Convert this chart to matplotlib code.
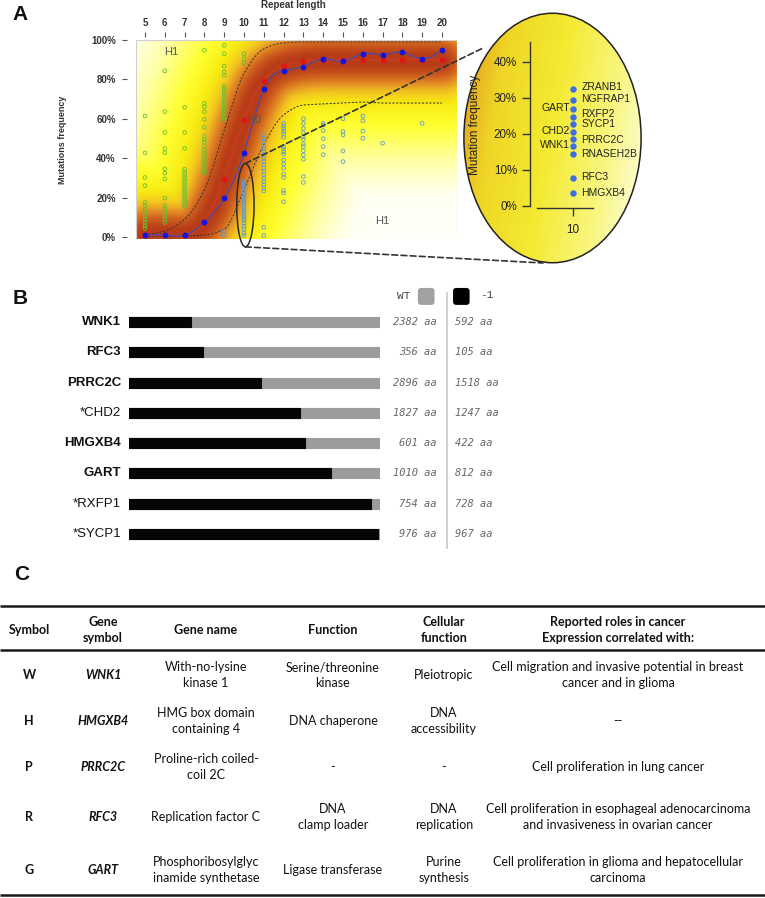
import numpy as np
import matplotlib
matplotlib.use('Agg')
import matplotlib.pyplot as plt
from matplotlib.patches import Ellipse, Rectangle, FancyBboxPatch, ConnectionPatch
from matplotlib.colors import LinearSegmentedColormap
import matplotlib.transforms as mtransforms

plt.rcParams['font.family'] = ['Liberation Sans', 'DejaVu Sans']

# ---------------- data: panel A ----------------
repeat_len = [5, 6, 7, 8, 9, 10, 11, 12, 13, 14, 15, 16, 17, 18, 19, 20]
observed_freq = [1, 1, 1, 7.4, 19.6, 42.7, 75, 84.5, 86.5, 90.4, 89.2, 93.1, 92.6, 93.8, 90.4, 94.8]
expected_freq = [1, 1, 1, 7.5, 29.5, 59.2, 79.4, 86.8, 89.2, 90, 90, 90, 90, 90, 90, 90]
upper_bound = [1, 3, 9, 24, 54, 83, 95.5, 98.5, 99, 99, 99, 99, 99, 99, 99, 99]
lower_bound = [0.5, 0.5, 0.5, 1, 4, 24, 47, 62, 67, 67.5, 68, 68.5, 68, 68, 68, 68]

loci_above = {
    5: [61.5, 42.7, 30.2, 26.1, 17.5, 15.9, 14.2, 12.5, 10.8, 9.1, 7.4, 5.8, 4.4],
    6: [84.3, 63.6, 53.1, 44.9, 42.8, 34.6, 32.4, 29.5, 19.7, 15.9, 14.2, 12.5, 10.8, 9.1, 7.4],
    7: [65.8, 53.1, 45.0, 34.4, 33.0, 31.7, 30.3, 29.0, 27.6, 26.3, 24.9, 23.6, 22.2, 20.9, 19.5, 18.2, 16.8, 15.5],
    8: [94.8, 67.8, 66.1, 63.6, 59.7, 55.6, 51.3, 49.5, 48.0, 46.0, 44.0, 42.5, 41.0, 39.5, 38.0, 36.5, 35.0, 33.5, 32.4],
    9: [97.3, 93.0, 86.7, 83.8, 82.0, 76.5, 75.3, 74.1, 72.8, 71.4, 70.1, 68.6, 67.2, 66.0, 64.6, 63.3, 62.0, 60.6, 59.4],
    10: [93.0, 90.5, 88.4],
}
loci_below = {
    9: [2.9, 0.8],
    10: [28.5, 27.5, 26.5, 25.5, 24.5, 23.5, 22.5, 21.5, 20.5, 19.5, 18.5, 17.5, 16.5, 15.5,
         14.5, 13.5, 12.5, 11.5, 10.5, 9.5, 8.5, 7.0, 5.5, 4.0, 2.0, 0.8],
    11: [51.8, 50.1, 48.4, 46.7, 45.0, 43.4, 41.7, 40.0, 38.3, 36.6, 35.0, 33.3, 31.6, 29.9,
         28.2, 26.5, 24.9, 23.4, 4.9, 0.8],
    12: [57.7, 56.3, 55.0, 53.6, 52.3, 50.6, 45.9, 44.7, 43.3, 42.1, 39.1, 37.1, 34.9, 31.9, 30.2, 23.6, 22.3, 17.9],
    13: [60.0, 57.7, 55.1, 52.9, 50.9, 49.6, 47.2, 45.9, 43.8, 41.7, 39.5, 30.7, 27.7],
    14: [57.7, 56.8, 54.0, 49.9, 45.9, 41.8],
    15: [60.0, 53.5, 51.8, 43.7, 38.3],
    16: [61.4, 59.0, 53.8, 50.1],
    17: [47.6],
    19: [57.7],
}

inset_genes = ['ZRANB1', 'NGFRAP1', 'GART', 'RXFP2', 'SYCP1', 'CHD2', 'PRRC2C', 'WNK1',
               'RNASEH2B', 'RFC3', 'HMGXB4']
inset_freq = [32.4, 29.4, 26.9, 24.8, 22.8, 20.4, 18.5, 16.7, 14.5, 7.7, 3.5]
inset_label_y = [33.0, 29.6, 27.2, 25.4, 22.7, 20.8, 18.2, 16.9, 14.3, 8.0, 3.7]
inset_side = ['r', 'r', 'l', 'r', 'r', 'l', 'r', 'l', 'r', 'r', 'r']

# ---------------- data: panel B ----------------
b_genes = ['WNK1', 'RFC3', 'PRRC2C', '*CHD2', 'HMGXB4', 'GART', '*RXFP1', '*SYCP1']
b_bold = [True, True, True, False, True, True, False, False]
wt_len = [2382, 356, 2896, 1827, 601, 1010, 754, 976]
mut_len = [592, 105, 1518, 1247, 422, 812, 728, 967]

# ---------------- data: panel C ----------------
c_header = ['Symbol', 'Gene\nsymbol', 'Gene name', 'Function', 'Cellular\nfunction',
            'Reported roles in cancer\nExpression correlated with:']
c_symbol = ['W', 'H', 'P', 'R', 'G']
c_gene = ['WNK1', 'HMGXB4', 'PRRC2C', 'RFC3', 'GART']
c_name = ['With-no-lysine\nkinase 1', 'HMG box domain\ncontaining 4', 'Proline-rich coiled-\ncoil 2C',
          'Replication factor C', 'Phosphoribosylglyc\ninamide synthetase']
c_function = ['Serine/threonine\nkinase', 'DNA chaperone', '-', 'DNA\nclamp loader', 'Ligase transferase']
c_cellular = ['Pleiotropic', 'DNA\naccessibility', '-', 'DNA\nreplication', 'Purine\nsynthesis']
c_roles = ['Cell migration and invasive potential in breast\ncancer and in glioma', '--',
           'Cell proliferation in lung cancer',
           'Cell proliferation in esophageal adenocarcinoma\nand invasiveness in ovarian cancer',
           'Cell proliferation in glioma and hepatocellular\ncarcinoma']


# ---------------- helpers ----------------
def natural_spline(xs, ys, xn):
    xs = np.asarray(xs, float); ys = np.asarray(ys, float)
    n = len(xs); h = np.diff(xs)
    A = np.zeros((n, n)); r = np.zeros(n)
    A[0, 0] = A[-1, -1] = 1
    for i in range(1, n - 1):
        A[i, i - 1] = h[i - 1]; A[i, i] = 2 * (h[i - 1] + h[i]); A[i, i + 1] = h[i]
        r[i] = 3 * ((ys[i + 1] - ys[i]) / h[i] - (ys[i] - ys[i - 1]) / h[i - 1])
    c = np.linalg.solve(A, r)
    b = np.diff(ys) / h - h * (2 * c[:-1] + c[1:]) / 3
    d = np.diff(c) / (3 * h)
    idx = np.clip(np.searchsorted(xs, xn) - 1, 0, n - 2)
    dx = xn - xs[idx]
    return ys[idx] + b[idx] * dx + c[idx] * dx ** 2 + d[idx] * dx ** 3


def pchip(xs, ys, xn):
    xs = np.asarray(xs, float); ys = np.asarray(ys, float)
    n = len(xs); h = np.diff(xs); delta = np.diff(ys) / h
    m = np.zeros(n)
    for k in range(1, n - 1):
        if delta[k - 1] * delta[k] <= 0:
            m[k] = 0
        else:
            w1 = 2 * h[k] + h[k - 1]; w2 = h[k] + 2 * h[k - 1]
            m[k] = (w1 + w2) / (w1 / delta[k - 1] + w2 / delta[k])
    m[0] = delta[0]; m[-1] = delta[-1]
    idx = np.clip(np.searchsorted(xs, xn) - 1, 0, n - 2)
    t = (xn - xs[idx]) / h[idx]
    h00 = 2 * t ** 3 - 3 * t ** 2 + 1; h10 = t ** 3 - 2 * t ** 2 + t
    h01 = -2 * t ** 3 + 3 * t ** 2; h11 = t ** 3 - t ** 2
    return h00 * ys[idx] + h10 * h[idx] * m[idx] + h01 * ys[idx + 1] + h11 * h[idx] * m[idx + 1]


W, H = 765, 898
fig = plt.figure(figsize=(W / 100, H / 100), dpi=100)


def px_axes(l, t, r, b, **kw):
    return fig.add_axes([l / W, 1 - b / H, (r - l) / W, (b - t) / H], **kw)


# ================= Panel A main =================
ax = px_axes(136, 40, 457, 239)
XL = (4.545, 20.758); YL = (-1, 100)
ax.set_xlim(*XL); ax.set_ylim(*YL)

# density background computed from expected curve
xs_fine = np.linspace(5, 20, 500)
exp_fine = natural_spline(repeat_len, expected_freq, xs_fine)
pxu = 321 / (XL[1] - XL[0]); pyu = 199 / (YL[1] - YL[0])
gx = np.linspace(XL[0], XL[1], 330); gy = np.linspace(YL[0], YL[1], 210)
GX, GY = np.meshgrid(gx, gy)
d2 = np.full(GX.shape, 1e12)
for cx, cy in zip(xs_fine, exp_fine):
    d2 = np.minimum(d2, ((GX - cx) * pxu) ** 2 + ((GY - cy) * pyu) ** 2)
field = 0.5 * np.exp(-d2 / (2 * 18 ** 2)) + 0.52 * np.exp(-d2 / (2 * 80 ** 2))
field = np.clip(field, 0, 1)
heat = LinearSegmentedColormap.from_list('heat', [
    (0.0, '#ffffff'), (0.12, '#fffff2'), (0.25, '#ffff96'), (0.37, '#ffff30'),
    (0.47, '#f8ea12'), (0.58, '#f2c420'), (0.7, '#e49024'), (0.84, '#d0621e'), (1.0, '#b83c18')])
ax.imshow(field, extent=(XL[0], XL[1], YL[0], YL[1]), origin='lower', aspect='auto',
          cmap=heat, vmin=0, vmax=1, zorder=0, interpolation='bilinear')

# bounds
ax.plot(xs_fine, pchip(repeat_len, upper_bound, xs_fine), color='#333333', lw=0.7,
        dashes=(2.2, 1.6), zorder=2)
ax.plot(xs_fine, pchip(repeat_len, lower_bound, xs_fine), color='#333333', lw=0.7,
        dashes=(2.2, 1.6), zorder=2)

# loci
for k, vals in loci_above.items():
    ax.scatter([k] * len(vals), vals, s=7, facecolors='none', edgecolors='#66c22e',
               linewidths=0.6, zorder=3)
for k, vals in loci_below.items():
    ax.scatter([k] * len(vals), vals, s=7, facecolors='none', edgecolors='#5a9ad6',
               linewidths=0.6, zorder=3)

# curves
ax.plot(xs_fine, exp_fine, color='#d23a22', lw=0.9, zorder=4)
ax.plot(repeat_len, expected_freq, 'o', color='#e01515', ms=3.2, zorder=5)
ax.plot(xs_fine, natural_spline(repeat_len, observed_freq, xs_fine), color='#4b4aa6', lw=0.9, zorder=4)
ax.plot(repeat_len, observed_freq, 'o', color='#1414e0', ms=3.2, zorder=5)

ax.text(6.31, 94, 'H1', fontsize=8, color='#555555', ha='center', va='center', zorder=6)
ax.text(10.5, 59.4, 'H0', fontsize=8, color='#555555', ha='center', va='center', zorder=6)
ax.text(16.97, 8.1, 'H1', fontsize=8, color='#555555', ha='center', va='center', zorder=6)

small_ell = Ellipse((10.07, 16.2), 0.875, 42.3, fill=False, ec='#2a2a2a', lw=1.1, zorder=6,
                    clip_on=False)
ax.add_patch(small_ell)

ax.add_patch(Rectangle((0, 0), 1, 1, transform=ax.transAxes, fill=False, ec='#d0d0d0',
                       lw=0.8, zorder=7))
for s in ax.spines.values():
    s.set_visible(False)
ax.spines['top'].set_position(('outward', 2.2))
ax.spines['left'].set_position(('outward', 6.5))
ax.xaxis.tick_top()
ax.set_xticks(repeat_len)
ax.set_xticklabels([str(v) for v in repeat_len], fontweight='bold')
ax.set_yticks([0, 20, 40, 60, 80, 100])
ax.set_yticklabels(['0%', '20%', '40%', '60%', '80%', '100%'], fontweight='bold')
ax.tick_params(axis='x', top=True, bottom=False, length=3.6, width=0.8, color='#555555',
               pad=2.5, labelsize=7, labelcolor='#333333')
ax.tick_params(axis='y', length=3.6, width=0.8, color='#555555', pad=4.5, labelsize=7,
               labelcolor='#333333')
ax.text(0.489, 1.176, 'Repeat length', transform=ax.transAxes, ha='center', va='center',
        fontsize=7, fontweight='bold', color='#333333')
ax.text(-0.2305, 0.5, 'Mutations frequency', transform=ax.transAxes, ha='center', va='center',
        rotation=90, fontsize=6.5, fontweight='bold', color='#333333')

# ================= Panel A zoom ellipse =================
axz = px_axes(463, 12, 642, 264)
axz.set_xlim(0, 1); axz.set_ylim(0, 1); axz.axis('off')
big_ell = Ellipse((0.5, 0.5), 0.99, 0.99, fill=False, ec='#222222', lw=1.1, zorder=3)
axz.add_patch(big_ell)
uu, vv = np.meshgrid(np.linspace(0, 1, 200), np.linspace(0, 1, 200))
grad = 0.8 * uu + 0.2 * (1 - vv)
zcmap = LinearSegmentedColormap.from_list('zc', [
    (0.0, '#dc8a1c'), (0.1, '#e6b022'), (0.22, '#efd626'), (0.48, '#f4ea30'),
    (0.75, '#f8f67e'), (1.0, '#fffff0')])
im = axz.imshow(grad, extent=(0, 1, 0, 1), origin='lower', aspect='auto', cmap=zcmap,
                vmin=0, vmax=1, zorder=1)
clip_ell = Ellipse((0.5, 0.5), 0.99, 0.99, transform=axz.transData)
im.set_clip_path(clip_ell)

for xyA, xyB in [((10.07, 37.35), (0.112, 0.857)), ((10.07, -5.0), (0.447, 0.004))]:
    con = ConnectionPatch(xyA=xyA, coordsA=ax.transData, xyB=xyB, coordsB=axz.transData,
                          color='#333333', lw=1.2, linestyle=(0, (3.5, 2)), zorder=8)
    fig.add_artist(con)

axi = px_axes(530, 42, 600, 208)
axi.patch.set_visible(False)
axi.set_xlim(10 - 0.614, 10 + 0.386)
axi.set_ylim(-0.6, 45.5)
for s in ['top', 'right']:
    axi.spines[s].set_visible(False)
axi.spines['left'].set_bounds(0, 45.5)
axi.spines['bottom'].set_bounds(10 - 0.514, 10 + 0.286)
for s in ['left', 'bottom']:
    axi.spines[s].set_color('#333333'); axi.spines[s].set_linewidth(1.0)
axi.set_xticks([10]); axi.set_xticklabels(['10'])
axi.set_yticks([0, 10, 20, 30, 40]); axi.set_yticklabels(['0%', '10%', '20%', '30%', '40%'])
axi.tick_params(axis='both', length=5.8, width=1.0, color='#333333', labelsize=8.4,
                labelcolor='#222222')
axi.tick_params(axis='y', pad=3.5)
axi.tick_params(axis='x', pad=6)
axi.set_ylabel('Mutation frequency', fontsize=8.5, color='#222222', labelpad=9)
axi.plot([10] * len(inset_freq), inset_freq, 'o', color='#3c6ee6', ms=3.6, zorder=5)
for g, v, ly, side in zip(inset_genes, inset_freq, inset_label_y, inset_side):
    if side == 'r':
        axi.annotate(g, (10, ly), xytext=(6.2, 0), textcoords='offset points', fontsize=7.5,
                     ha='left', va='center', color='#222222')
    else:
        axi.annotate(g, (10, ly), xytext=(-2.2, 0), textcoords='offset points', fontsize=7.5,
                     ha='right', va='center', color='#222222')

# ================= Panel B =================
axb = px_axes(129, 307, 380, 549)
n = len(b_genes)
axb.set_xlim(0, 1); axb.set_ylim(n - 0.5, -0.5)
axb.axis('off')
rows = np.arange(n)
frac = [m / w for m, w in zip(mut_len, wt_len)]
axb.barh(rows, [1] * n, height=0.33, color='#9e9b9b', ec='#9e9b9b', lw=0.8, joinstyle='round')
axb.barh(rows, frac, height=0.33, color='#050505', ec='#050505', lw=0.8, joinstyle='round')
trb = mtransforms.blended_transform_factory(axb.transAxes, axb.transData)
for i, (g, bold) in enumerate(zip(b_genes, b_bold)):
    axb.text(-0.032, i, g, transform=trb, ha='right', va='center', fontsize=9.5,
             fontweight='bold' if bold else 'normal', color='#111111')
    axb.text(1.227, i, f'{wt_len[i]} aa', transform=trb, ha='right', va='center', fontsize=7.5,
             family='DejaVu Sans Mono', style='italic', color='#666666')
    axb.text(1.299, i, f'{mut_len[i]} aa', transform=trb, ha='left', va='center', fontsize=7.5,
             family='DejaVu Sans Mono', style='italic', color='#666666')
axb.plot([1.267, 1.267], [-0.95, 7.47], transform=trb, color='#c8c8c8', lw=1.2, clip_on=False)
asp = (1 / 30.25) / (1 / 251)
for x0, col in [(1.151, '#a3a0a0'), (1.291, '#000000')]:
    axb.add_patch(FancyBboxPatch((x0, -1.13), 0.066, 0.56, boxstyle='round,pad=0,rounding_size=0.012',
                                 mutation_aspect=asp, fc=col, ec='none', clip_on=False))
axb.text(1.12, -0.88, 'WT', ha='right', va='center', fontsize=8, family='Liberation Mono',
         color='#444444', transform=axb.transData)
axb.text(1.398, -0.9, '-1', ha='left', va='center', fontsize=8, family='Liberation Mono',
         color='#444444', transform=axb.transData)

# ================= Panel C =================
axt = px_axes(0, 595, 765, 898)
axt.set_xlim(0, 765); axt.set_ylim(898, 595); axt.axis('off')
tf = ['Lato', 'DejaVu Sans']
col_x = [29, 103, 206, 333, 444, 618]
head_y = 630
row_y = [675, 721, 767, 817, 870]
for yv in [606, 650, 895]:
    axt.plot([0, 765], [yv, yv], color='#1a1a1a', lw=1.8, solid_capstyle='butt')
for cx, txt in zip(col_x, c_header):
    axt.text(cx, head_y, txt, ha='center', va='center', fontsize=9, fontweight='bold',
             family=tf, linespacing=1.3, color='#111111')
for i, y in enumerate(row_y):
    vals = [c_symbol[i], c_gene[i], c_name[i], c_function[i], c_cellular[i], c_roles[i]]
    for j, (cx, txt) in enumerate(zip(col_x, vals)):
        kw = {}
        if j == 0:
            kw['fontweight'] = 'bold'
        if j == 1:
            kw['fontweight'] = 'bold'; kw['style'] = 'italic'
        axt.text(cx, y, txt, ha='center', va='center', fontsize=9, family=tf,
                 linespacing=1.35, color='#111111', **kw)

# panel letters
for lab, x, y in [('A', 20, 15), ('B', 20, 298), ('C', 22, 574)]:
    fig.text(x / W, 1 - y / H, lab, ha='center', va='center', fontsize=15, fontweight='bold',
             color='#111111')

fig.savefig('out.png', dpi=100)
